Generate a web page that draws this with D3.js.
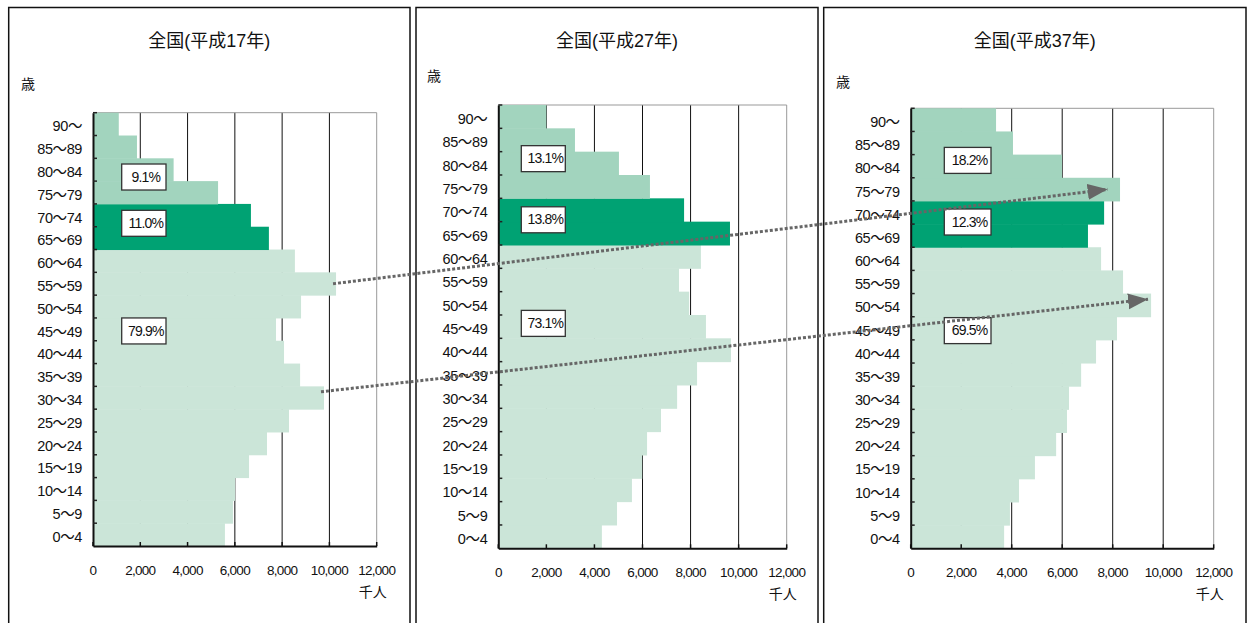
<!DOCTYPE html>
<html>
<head>
<meta charset="utf-8">
<script src="https://cdn.jsdelivr.net/npm/d3@7"></script>
<style>
html,body{margin:0;padding:0;background:#fff;}
svg{display:block;}
text{font-family:"Liberation Sans","Noto Sans CJK JP",sans-serif;fill:#111;}
</style>
</head>
<body>
<svg id="chart" width="1250" height="623"></svg>
<script>
// ---- data ----
const ages = ["0～4","5～9","10～14","15～19","20～24","25～29","30～34","35～39","40～44","45～49",
              "50～54","55～59","60～64","65～69","70～74","75～79","80～84","85～89","90～"];
const pop2005 = [5580,5920,6010,6600,7360,8290,9770,8760,8080,7740,8800,10280,8540,7440,6680,5290,3410,1860,1090];
const pop2015 = [4310,4940,5560,5990,6190,6770,7440,8270,9680,8640,7940,7520,8430,9640,7730,6310,5020,3190,2000];
const pop2025 = [3700,3930,4290,4920,5760,6190,6270,6750,7340,8170,9520,8410,7540,7020,7660,8290,5990,4050,3380];
const titles = ["全国(平成17年)","全国(平成27年)","全国(平成37年)"];
const share75 = ["9.1%","13.1%","18.2%"];
const share65 = ["11.0%","13.8%","12.3%"];
const shareWork = ["79.9%","73.1%","69.5%"];
const xTicks = [0,2000,4000,6000,8000,10000,12000];
const unitLabel = "千人";
const ageLabel = "歳";
// arrows: start at a 2005 bar end, end near a 2025 bar end
const arrowFrom = ["55～59","30～34"];
const arrowTo = ["75～79","50～54"];
const arrowTipValue = [7800,9400];

// ---- layout ----
const series = [pop2005,pop2015,pop2025];
const layout = [
  {frame:[8.7,7.5,410,640], x0:93, x1:376.7, top:112.7, bottom:546, tick:571, unit:593, age:[28,85], labX:[121.7,166], lab:[2.82,4.85,9.57]},
  {frame:[416,7.5,818,640], x0:498.3, x1:786.7, top:105, bottom:548.3, tick:573, unit:595, age:[434,77], labX:[521.3,565.3], lab:[2.3,4.92,9.36]},
  {frame:[823.7,7.5,1246,640], x0:910.7, x1:1213.7, top:108.3, bottom:548.3, tick:573, unit:595, age:[843,83], labX:[944.3,991], lab:[2.25,4.91,9.6]}
];
const cLight = "#cbe5d8", cMid = "#a2d4be", cDark = "#00a273";
function color(i){ return i>=15 ? cMid : (i>=13 ? cDark : cLight); }

const svg = d3.select("#chart");
const fmt = d3.format(",");
const scales = [];

layout.forEach((L,p)=>{
  const g = svg.append("g");
  const [fx0,fy0,fx1,fy1] = L.frame;
  g.append("rect").attr("x",fx0).attr("y",fy0).attr("width",fx1-fx0).attr("height",fy1-fy0)
    .attr("fill","#fff").attr("stroke","#111").attr("stroke-width",1.5);
  g.append("text").attr("x",(fx0+fx1)/2).attr("y",47).attr("text-anchor","middle")
    .style("font-size","18px").text(titles[p]);
  g.append("text").attr("x",L.age[0]).attr("y",L.age[1]).attr("text-anchor","middle")
    .attr("dominant-baseline","middle").style("font-size","14px").text(ageLabel);

  const x = d3.scaleLinear().domain([0,12000]).range([L.x0,L.x1]);
  const y = d3.scaleBand().domain(ages.slice().reverse()).range([L.top,L.bottom]).padding(0);
  scales.push({x,y});

  // grid
  g.selectAll("line.grid").data(xTicks.slice(1,-1)).enter().append("line")
    .attr("x1",d=>x(d)).attr("x2",d=>x(d)).attr("y1",L.top).attr("y2",L.bottom)
    .attr("stroke","#111").attr("stroke-width",1);
  g.append("line").attr("x1",x(0)).attr("x2",x(12000)).attr("y1",L.top).attr("y2",L.top)
    .attr("stroke","#999").attr("stroke-width",1);
  g.append("line").attr("x1",x(12000)).attr("x2",x(12000)).attr("y1",L.top).attr("y2",L.bottom)
    .attr("stroke","#999").attr("stroke-width",1);

  // bars
  g.selectAll("rect.bar").data(series[p]).enter().append("rect")
    .attr("x",x(0)).attr("y",(d,i)=>y(ages[i])).attr("width",d=>x(d)-x(0))
    .attr("height",y.bandwidth()+0.5).attr("fill",(d,i)=>color(i));

  // axes
  const ya = d3.axisLeft(y).tickSize(0).tickPadding(11);
  const yg = g.append("g").attr("transform",`translate(${x(0)},0)`).call(ya);
  yg.select(".domain").attr("stroke","#111").attr("stroke-width",2);
  yg.selectAll("text").style("font-size","14.5px").style("letter-spacing","-0.4px")
    .attr("fill","#111").attr("dy","0.5em");
  // inner tick marks at band boundaries
  g.selectAll("line.ytk").data(ages).enter().append("line")
    .attr("x1",x(0)).attr("x2",x(0)+4).attr("y1",d=>y(d)).attr("y2",d=>y(d))
    .attr("stroke","#222").attr("stroke-width",1.5);

  const xa = d3.axisBottom(x).tickValues(xTicks).tickSize(0).tickFormat(fmt);
  const xg = g.append("g").attr("transform",`translate(0,${L.bottom})`).call(xa);
  xg.select(".domain").attr("stroke","#111").attr("stroke-width",2);
  xg.selectAll("text").remove();
  g.selectAll("text.xt").data(xTicks).enter().append("text")
    .attr("x",d=>x(d)).attr("y",L.tick).attr("text-anchor","middle").attr("dominant-baseline","middle")
    .style("font-size","13.5px").style("letter-spacing","-0.7px").text(d=>fmt(d));
  g.selectAll("line.xtk").data(xTicks).enter().append("line")
    .attr("x1",d=>x(d)).attr("x2",d=>x(d)).attr("y1",L.bottom).attr("y2",L.bottom-4)
    .attr("stroke","#111").attr("stroke-width",1.5);
  g.append("text").attr("x",x(12000)-4).attr("y",L.unit).attr("text-anchor","middle")
    .attr("dominant-baseline","middle").style("font-size","14px").text(unitLabel);

  // share boxes
  const labs = [share75[p],share65[p],shareWork[p]];
  labs.forEach((t,k)=>{
    const cy = L.top + L.lab[k]*y.bandwidth();
    g.append("rect").attr("x",L.labX[0]).attr("y",cy-13).attr("width",L.labX[1]-L.labX[0]).attr("height",26)
      .attr("fill","#fff").attr("stroke","#333").attr("stroke-width",1.3);
    g.append("text").attr("x",(L.labX[0]+L.labX[1])/2+2).attr("y",cy+1).attr("text-anchor","middle")
      .attr("dominant-baseline","middle").style("font-size","14px").style("letter-spacing","-0.8px").text(t);
  });
});

// arrows
const defs = svg.append("defs");
defs.append("marker").attr("id","arr").attr("markerUnits","userSpaceOnUse")
  .attr("markerWidth",22).attr("markerHeight",18).attr("refX",20).attr("refY",8)
  .attr("orient","auto").append("path").attr("d","M0,0 L20,8 L0,16 Z").attr("fill","#666");
const yOff = [0,-6];
arrowFrom.forEach((a,k)=>{
  const s0 = scales[0], s2 = scales[2];
  const i0 = ages.indexOf(a);
  const x1 = s0.x(pop2005[i0]) - 3, y1 = s0.y(a) + s0.y.bandwidth()/2 + yOff[k];
  const x2 = s2.x(arrowTipValue[k]), y2 = s2.y(arrowTo[k]) + s2.y.bandwidth()/2 + yOff[k];
  svg.append("line").attr("x1",x1).attr("y1",y1).attr("x2",x2).attr("y2",y2)
    .attr("stroke","#666").attr("stroke-width",3).attr("stroke-dasharray","3,2")
    .attr("marker-end","url(#arr)");
});
</script>
</body>
</html>
